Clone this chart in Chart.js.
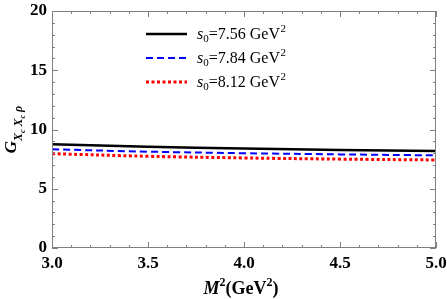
<!DOCTYPE html>
<html>
<head>
<meta charset="utf-8">
<script src="https://cdn.jsdelivr.net/npm/chart.js"></script>
<style>
  html, body { margin: 0; padding: 0; background: #fff; }
  #wrap { width: 447px; height: 299px; position: relative; }
</style>
</head>
<body>
<div id="wrap"><canvas id="gChart"></canvas></div>
<script>
// Data
const massSq = [3.0, 3.5, 4.0, 4.5, 5.0];
const coupling756 = [8.75, 8.55, 8.40, 8.28, 8.19];
const coupling784 = [8.33, 8.13, 8.00, 7.90, 7.82];
const coupling812 = [7.96, 7.74, 7.60, 7.50, 7.43];
const seriesLabels = ['7.56', '7.84', '8.12'];
const xTicks = [3.0, 3.5, 4.0, 4.5, 5.0];
const yTicks = [0, 5, 10, 15, 20];

const serif = '"Liberation Serif", "DejaVu Serif", serif';
const frameColor = '#808080';

function toPoints(ys) {
    return massSq.map((x, i) => ({ x: x, y: ys[i] }));
}

const lineStyles = [
    { color: '#000000', width: 2.5, dash: [] },
    { color: '#0000ff', width: 2, dash: [7, 4] },
    { color: '#ff0000', width: 3, dash: [3, 2.5] }
];

// frame, inward ticks, legend and axis titles
const decorPlugin = {
    id: 'decor',
    afterDraw(chart) {
        const ctx = chart.ctx;
        const area = chart.chartArea;
        const xs = chart.scales.x;
        const ys = chart.scales.y;
        ctx.save();

        // frame
        ctx.strokeStyle = frameColor;
        ctx.lineWidth = 1;
        ctx.strokeRect(area.left + 0.5, area.top + 0.5, area.right - area.left - 1, area.bottom - area.top - 1);

        // inward ticks on all sides
        ctx.beginPath();
        for (let v = 3.0; v <= 5.0001; v += 0.1) {
            const major = Math.abs(v * 2 - Math.round(v * 2)) < 1e-6;
            const len = major ? 6 : 3;
            const px = Math.round(xs.getPixelForValue(v)) + 0.5;
            ctx.moveTo(px, area.bottom);
            ctx.lineTo(px, area.bottom - len);
            ctx.moveTo(px, area.top);
            ctx.lineTo(px, area.top + len);
        }
        for (let v = 0; v <= 20; v += 1) {
            const len = v % 5 === 0 ? 6 : 3;
            const py = Math.round(ys.getPixelForValue(v)) + 0.5;
            ctx.moveTo(area.left, py);
            ctx.lineTo(area.left + len, py);
            ctx.moveTo(area.right, py);
            ctx.lineTo(area.right - len, py);
        }
        ctx.stroke();

        // legend
        const lx0 = 146, lx1 = 187, tx = 197;
        const rows = [34, 58, 82];
        ctx.textBaseline = 'middle';
        ctx.textAlign = 'left';
        seriesLabels.forEach((lab, i) => {
            const st = lineStyles[i];
            ctx.beginPath();
            ctx.strokeStyle = st.color;
            ctx.lineWidth = st.width;
            ctx.setLineDash(st.dash);
            ctx.moveTo(lx0, rows[i]);
            ctx.lineTo(lx1, rows[i]);
            ctx.stroke();
            ctx.setLineDash([]);
            ctx.fillStyle = '#000';
            let x = tx;
            const y = rows[i] + 1;
            ctx.font = 'italic 16px ' + serif;
            ctx.fillText('s', x, y);
            x += ctx.measureText('s').width;
            ctx.font = '11px ' + serif;
            ctx.fillText('0', x, y + 4);
            x += ctx.measureText('0').width;
            ctx.font = '16px ' + serif;
            const t = '=' + lab + ' GeV';
            ctx.fillText(t, x, y);
            x += ctx.measureText(t).width;
            ctx.font = '11px ' + serif;
            ctx.fillText('2', x + 0.5, y - 6);
        });

        // x axis title
        ctx.fillStyle = '#000';
        ctx.textBaseline = 'alphabetic';
        const parts = [
            { t: 'M', f: 'bold italic 18px ' + serif, dy: 0 },
            { t: '2', f: 'bold 12px ' + serif, dy: -8 },
            { t: '(GeV', f: 'bold 18px ' + serif, dy: 0 },
            { t: '2', f: 'bold 12px ' + serif, dy: -8 },
            { t: ')', f: 'bold 18px ' + serif, dy: 0 }
        ];
        let total = 0;
        parts.forEach(p => { ctx.font = p.f; total += ctx.measureText(p.t).width; });
        let cx = 241 - total / 2;
        const by = 294;
        parts.forEach(p => {
            ctx.font = p.f;
            ctx.fillText(p.t, cx, by + p.dy);
            cx += ctx.measureText(p.t).width;
        });

        // y axis title (rotated)
        ctx.translate(16, (area.top + area.bottom) / 2);
        ctx.rotate(-Math.PI / 2);
        const yparts = [
            { t: 'G', f: 'bold italic 17px ' + serif, dy: 0 },
            { t: 'X', f: 'bold italic 12px ' + serif, dy: 6 },
            { t: 'c', f: 'bold italic 8px ' + serif, dy: 9 },
            { t: ' X', f: 'bold italic 12px ' + serif, dy: 6 },
            { t: 'c', f: 'bold italic 8px ' + serif, dy: 9 },
            { t: ' \u03c1', f: 'bold italic 12px ' + serif, dy: 6 }
        ];
        total = 0;
        yparts.forEach(p => { ctx.font = p.f; total += ctx.measureText(p.t).width; });
        cx = -total / 2;
        yparts.forEach(p => {
            ctx.font = p.f;
            ctx.fillText(p.t, cx, p.dy);
            cx += ctx.measureText(p.t).width;
        });
        ctx.restore();
    }
};

const chart = new Chart(document.getElementById('gChart'), {
    type: 'line',
    data: {
        datasets: [coupling756, coupling784, coupling812].map((ys, i) => ({
            label: 's0=' + seriesLabels[i] + ' GeV2',
            data: toPoints(ys),
            borderColor: lineStyles[i].color,
            borderWidth: lineStyles[i].width,
            borderDash: lineStyles[i].dash,
            pointRadius: 0,
            tension: 0.4,
            fill: false
        }))
    },
    options: {
        responsive: true,
        maintainAspectRatio: false,
        animation: false,
        layout: { padding: { top: 11, right: 11, left: 0, bottom: 0 } },
        plugins: {
            legend: { display: false },
            tooltip: { enabled: false }
        },
        scales: {
            x: {
                type: 'linear',
                min: 3.0,
                max: 5.0,
                afterBuildTicks: (scale) => { scale.ticks = xTicks.map(v => ({ value: v })); },
                afterFit: (scale) => {
                    scale.height = 51;
                    scale.paddingLeft = 0;
                    scale.paddingRight = 0;
                },
                ticks: {
                    color: '#000',
                    padding: 5,
                    maxRotation: 0,
                    font: { family: serif, size: 17, weight: 'bold' },
                    callback: (v) => Number(v).toFixed(1)
                },
                grid: { display: false, drawTicks: false },
                border: { display: false }
            },
            y: {
                min: 0,
                max: 20,
                afterBuildTicks: (scale) => { scale.ticks = yTicks.map(v => ({ value: v })); },
                afterFit: (scale) => {
                    scale.width = 52;
                    scale.paddingTop = 0;
                    scale.paddingBottom = 0;
                },
                ticks: {
                    color: '#000',
                    padding: 5,
                    font: { family: serif, size: 17, weight: 'bold' }
                },
                grid: { display: false, drawTicks: false },
                border: { display: false }
            }
        }
    },
    plugins: [decorPlugin]
});
</script>
</body>
</html>
